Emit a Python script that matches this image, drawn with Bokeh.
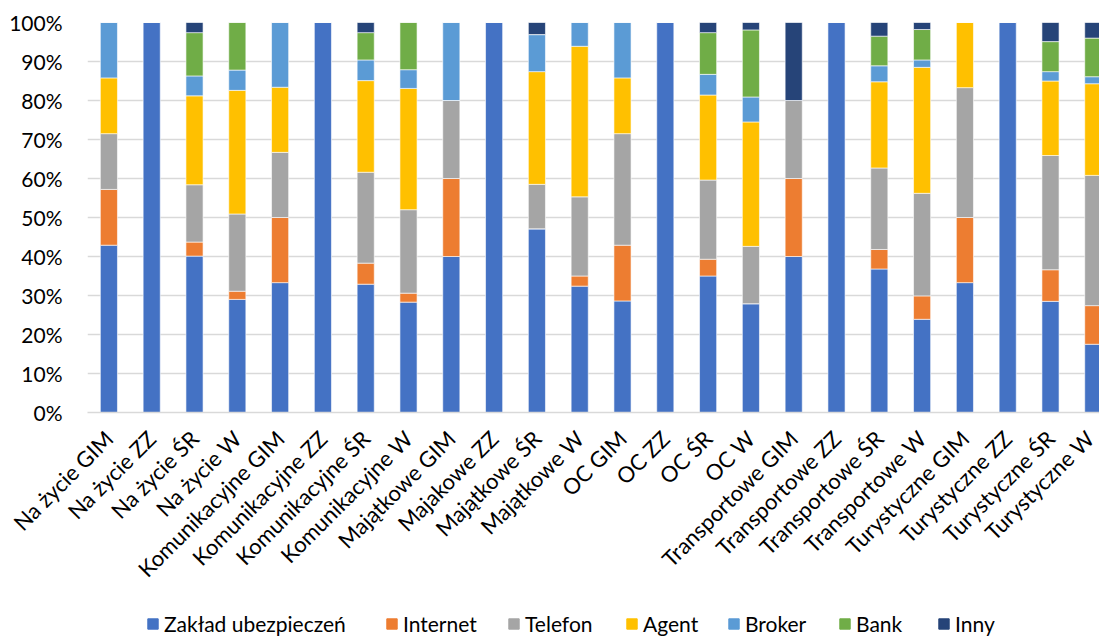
import math
from bokeh.plotting import figure
from bokeh.layouts import column
from bokeh.models import (ColumnDataSource, FixedTicker, NumeralTickFormatter,
                          CustomJSTickFormatter, Legend, LegendItem, Range1d)
from bokeh.embed import file_html
from bokeh.resources import INLINE

categories = ["Na życie GIM", "Na życie ZZ", "Na życie ŚR", "Na życie W",
              "Komunikacyjne GIM", "Komunikacyjne ZZ", "Komunikacyjne ŚR", "Komunikacyjne W",
              "Majątkowe GIM", "Majakowe ZZ", "Majątkowe ŚR", "Majątkowe W",
              "OC GIM", "OC ZZ", "OC ŚR", "OC W",
              "Transportowe GIM", "Transportowe ZZ", "Transportowe ŚR", "Transportowe W",
              "Turystyczne GIM", "Turystyczne ZZ", "Turystyczne ŚR", "Turystyczne W"]

series_names = ["Zakład ubezpieczeń", "Internet", "Telefon", "Agent", "Broker", "Bank", "Inny"]
colors = ["#4472C4", "#ED7D31", "#A5A5A5", "#FFC000", "#5B9BD5", "#70AD47", "#264478"]

zaklad   = [42.9, 100, 40.1, 29.0, 33.3, 100, 32.9, 28.3, 40.0, 100, 47.1, 32.4,
            28.6, 100, 35.0, 27.9, 40.0, 100, 36.8, 23.9, 33.3, 100, 28.5, 17.5]
internet = [14.3, 0, 3.6, 2.1, 16.7, 0, 5.4, 2.3, 20.0, 0, 0.0, 2.6,
            14.3, 0, 4.3, 0.0, 20.0, 0, 5.0, 6.0, 16.7, 0, 8.1, 9.9]
telefon  = [14.3, 0, 14.7, 19.8, 16.7, 0, 23.3, 21.4, 20.0, 0, 11.4, 20.3,
            28.6, 0, 20.3, 14.7, 20.0, 0, 20.9, 26.3, 33.3, 0, 29.3, 33.4]
agent    = [14.3, 0, 22.8, 31.7, 16.7, 0, 23.5, 31.1, 0.0, 0, 28.9, 38.6,
            14.3, 0, 21.8, 31.9, 0.0, 0, 22.1, 32.3, 16.7, 0, 19.1, 23.5]
broker   = [14.2, 0, 5.1, 5.2, 16.6, 0, 5.3, 4.8, 20.0, 0, 9.5, 6.1,
            14.2, 0, 5.3, 6.4, 0.0, 0, 4.1, 1.9, 0.0, 0, 2.4, 1.8]
bank     = [0.0, 0, 11.1, 12.2, 0.0, 0, 7.0, 12.1, 0.0, 0, 0.0, 0.0,
            0.0, 0, 10.7, 17.2, 0.0, 0, 7.6, 7.8, 0.0, 0, 7.7, 9.9]
inny     = [0.0, 0, 2.6, 0.0, 0.0, 0, 2.6, 0.0, 0.0, 0, 3.1, 0.0,
            0.0, 0, 2.6, 1.9, 20.0, 0, 3.5, 1.8, 0.0, 0, 4.9, 4.0]

y_ticks = [i / 10 for i in range(11)]

series = [zaklad, internet, telefon, agent, broker, bank, inny]
keys = ["s%d" % i for i in range(len(series))]
data = {"x": list(range(len(categories)))}
for k, s in zip(keys, series):
    data[k] = [v / 100.0 for v in s]
source = ColumnDataSource(data)

FONT = "Lato"
LEFT = 87

p = figure(width=1099, height=594, output_backend="svg", toolbar_location=None,
           x_range=Range1d(-0.5, 23.145), y_range=Range1d(0, 1.0),
           min_border_left=LEFT, min_border_right=0, min_border_top=22,
           min_border_bottom=182)
p.outline_line_color = None
p.background_fill_color = "white"
p.border_fill_color = "white"

renderers = p.vbar_stack(keys, x="x", width=0.4, source=source, color=colors,
                         line_color="white", line_width=0.6)

p.xgrid.grid_line_color = None
p.ygrid.grid_line_color = "#D9D9D9"
p.ygrid.grid_line_width = 1.5

p.yaxis.ticker = FixedTicker(ticks=y_ticks)
p.yaxis.formatter = NumeralTickFormatter(format="0%")
p.yaxis.axis_line_color = None
p.yaxis.major_tick_line_color = None
p.yaxis.minor_tick_line_color = None
p.yaxis.major_label_text_font = FONT
p.yaxis.major_label_text_font_size = "21px"
p.yaxis.major_label_text_color = "#000000"
p.yaxis.major_label_standoff = 19

p.xaxis.ticker = FixedTicker(ticks=list(range(len(categories))))
p.xaxis.formatter = CustomJSTickFormatter(args=dict(labels=categories),
                                          code="return labels[Math.round(tick)] || '';")
p.xaxis.major_label_orientation = math.pi / 4
p.xaxis.axis_line_color = "#D9D9D9"
p.xaxis.axis_line_width = 1.5
p.xaxis.major_tick_line_color = None
p.xaxis.minor_tick_line_color = None
p.xaxis.major_label_text_font = FONT
p.xaxis.major_label_text_font_size = "22px"
p.xaxis.major_label_text_color = "#000000"
p.xaxis.major_label_standoff = 16

# legend strip below the chart
lg = figure(width=1099, height=42, output_backend="svg", toolbar_location=None,
            x_range=Range1d(0, 1), y_range=Range1d(0, 1),
            min_border_left=LEFT, min_border_right=0, min_border_top=0, min_border_bottom=0,
            x_axis_location=None, y_axis_location=None)
lg.outline_line_color = None
lg.xgrid.visible = False
lg.ygrid.visible = False

legend_x = [146, 385, 507, 625, 727, 838, 937]
for name, c, lx in zip(series_names, colors, legend_x):
    r = lg.vbar(x=[-5], top=[0], bottom=[0], width=0.1, color=c)
    leg = Legend(items=[LegendItem(label=name, renderers=[r])], location=(lx - LEFT, 0))
    leg.label_text_font = FONT
    leg.label_text_font_size = "21px"
    leg.label_text_color = "#000000"
    leg.glyph_width = 13
    leg.glyph_height = 13
    leg.label_standoff = 5
    leg.padding = 0
    leg.margin = 0
    leg.border_line_color = None
    leg.background_fill_alpha = 0
    lg.add_layout(leg)

layout = column(p, lg, spacing=0)
open("out.html", "w").write(file_html(layout, INLINE))
